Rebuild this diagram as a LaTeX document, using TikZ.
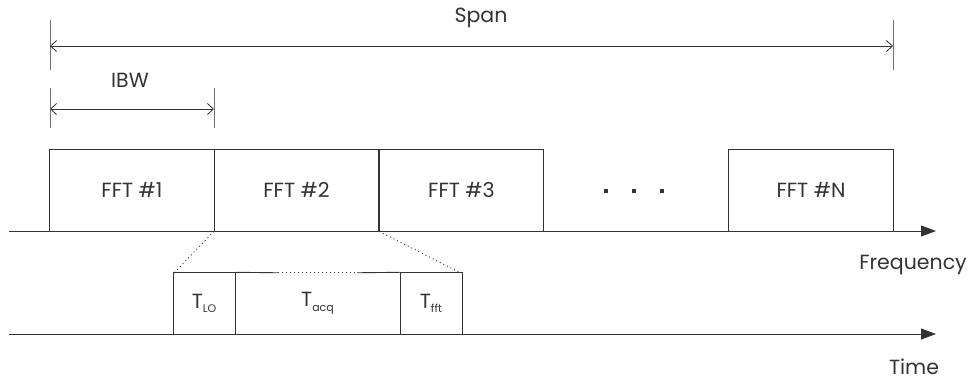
\documentclass[tikz,border=0pt]{standalone}
\usepackage{fontspec}
\setmainfont{Poppins}
\usetikzlibrary{arrows.meta}
\definecolor{ink}{HTML}{333333}
\newcommand{\Tsb}[1]{T\raisebox{-0.4ex}{\fontsize{11}{11}\selectfont #1}}
\tikzset{
  lbl/.style={font=\fontsize{20.5}{24}\selectfont, text=ink, inner sep=0pt},
  fftbox/.style={draw=ink, line width=0.9pt, minimum height=82pt, minimum width=164.5pt, inner sep=0pt, font=\fontsize{20.5}{24}\selectfont, text=ink},
  tbox/.style={draw=ink, line width=0.9pt, minimum height=61.5pt, minimum width=62pt, inner sep=0pt, font=\fontsize{20.5}{24}\selectfont, text=ink},
  dim/.style={draw=ink, line width=0.8pt, {Straight Barb[length=6pt,width=11pt]}-{Straight Barb[length=6pt,width=11pt]}},
  tick/.style={draw=ink!70, line width=0.6pt},
  axis/.style={draw=ink, line width=0.9pt, -{Triangle[length=15pt,width=11pt]}},
  zoomline/.style={draw=ink, line width=0.9pt, dash pattern=on 1pt off 3pt},
}
\begin{document}
\begin{tikzpicture}[x=1pt,y=-1pt]
\useasboundingbox (0,0) rectangle (972,381);
% dimension lines
\coordinate (s1t) at (50,20); \coordinate (s1b) at (50,70);
\coordinate (s2t) at (893,20); \coordinate (s2b) at (893,70);
\coordinate (i1t) at (50,88); \coordinate (i1b) at (50,128);
\coordinate (i2t) at (214,88); \coordinate (i2b) at (214,128);
\draw[tick] (s1t) -- (s1b);
\draw[tick] (s2t) -- (s2b);
\draw[tick] (i1t) -- (i1b);
\draw[tick] (i2t) -- (i2b);
\coordinate (sa) at (50,46); \coordinate (sb) at (893,46);
\coordinate (ia) at (50,109); \coordinate (ib) at (214,109);
\draw[dim] (sa) -- (sb);
\draw[dim] (ia) -- (ib);
\node[lbl] (span) at (481,18) {Span};
\node[lbl] (ibw) at (130,80) {IBW};
% axes
\coordinate (fa) at (9,231); \coordinate (fb) at (936,231);
\coordinate (ta) at (9,334); \coordinate (tb) at (936,334);
\draw[axis] (fa) -- (fb);
\draw[axis] (ta) -- (tb);
\node[lbl] (freq) at (913,265) {Frequency};
\node[lbl] (time) at (914,367) {Time};
% FFT boxes
\node[fftbox] (f1) at (132,190) {FFT \#1};
\node[fftbox] (f2) at (296.5,190) {FFT \#2};
\node[fftbox] (f3) at (461.5,190) {FFT \#3};
\node[fftbox] (fn) at (811,190) {FFT \#N};
\node[inner sep=0pt, text=ink] (dots) at (634,191) {\rule{4.5pt}{4.5pt}\hspace{23.5pt}\rule{4.5pt}{4.5pt}\hspace{23.5pt}\rule{4.5pt}{4.5pt}};
% timing boxes
\node[tbox] (tlo) at (204,303.5) {\Tsb{LO}};
\node[tbox] (tfft) at (431,303.5) {\Tsb{fft}};
\node[minimum height=61.5pt, minimum width=165pt, inner sep=0pt, font=\fontsize{20.5}{24}\selectfont, text=ink] (tacq) at (317.5,303.5) {\Tsb{acq}};
\coordinate (q1) at (278,272.75); \coordinate (q2) at (357,272.75);
\draw[draw=ink, line width=0.9pt] (q1) -- (tlo.north east);
\draw[draw=ink, line width=0.9pt] (q2) -- (tfft.north west);
\draw[zoomline] (q1) -- (q2);
\draw[draw=ink, line width=0.9pt] (tlo.south east) -- (tfft.south west);
% zoom lines
\draw[zoomline] (f2.south west) -- ([xshift=2pt]tlo.north west);
\draw[zoomline] (f2.south east) -- ([xshift=-3pt]tfft.north east);
\end{tikzpicture}
\end{document}
